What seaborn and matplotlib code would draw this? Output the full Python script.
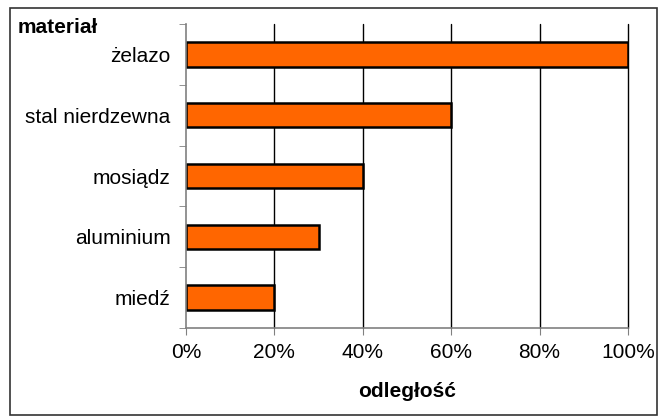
import numpy as np
import pandas as pd
import matplotlib
matplotlib.use('Agg')
import matplotlib.pyplot as plt
import seaborn as sns
from matplotlib.patches import Rectangle
from matplotlib.ticker import FixedLocator, PercentFormatter

materialy = ['żelazo', 'stal nierdzewna', 'mosiądz', 'aluminium', 'miedź']
odleglosc = [100, 60, 40, 30, 20]

df = pd.DataFrame({'material': materialy, 'odleglosc': odleglosc})

sns.set_style('white')
plt.rcParams['font.family'] = ['Liberation Sans', 'DejaVu Sans']
plt.rcParams['text.color'] = 'black'
plt.rcParams['axes.labelcolor'] = 'black'
plt.rcParams['xtick.labelcolor'] = 'black'
plt.rcParams['ytick.labelcolor'] = 'black'

fig = plt.figure(figsize=(6.58, 4.16), dpi=100)
ax = fig.add_axes([186 / 658, 1 - 328 / 416, 442 / 658, 304 / 416])

sns.barplot(data=df, x='odleglosc', y='material', orient='h', color='#FF6600',
            saturation=1, edgecolor='black', linewidth=1.8, width=0.4, ax=ax)

ax.set_xlim(0, 100)
ax.set_ylim(len(materialy) - 0.5, -0.5)
ax.set_xticks([0, 20, 40, 60, 80, 100])
ax.xaxis.set_major_formatter(PercentFormatter(decimals=0))
ax.tick_params(axis='x', labelsize=15, length=5, color='#808080', pad=6, direction='out', bottom=True)
ax.tick_params(axis='y', labelsize=15, length=0, pad=11)
ax.yaxis.set_minor_locator(FixedLocator(np.arange(-0.5, len(materialy), 1)))
ax.tick_params(axis='y', which='minor', length=5, color='#808080', left=True)

for v in [20, 40, 60, 80, 100]:
    ax.axvline(v, color='black', linewidth=1, zorder=0, clip_on=False)

for s in ['top', 'right']:
    ax.spines[s].set_visible(False)
for s in ['left', 'bottom']:
    ax.spines[s].set_color('#808080')
    ax.spines[s].set_linewidth(1.2)

ax.set_ylabel('')
ax.set_xlabel('odległość', fontsize=15, fontweight='bold', labelpad=14)
fig.text(18 / 658, 1 - 33 / 416, 'materiał', fontsize=15, fontweight='bold', ha='left', va='baseline')

fig.patches.append(Rectangle((10 / 658, 0.002), 0.998 - 10 / 658, 1 - 8 / 416 - 0.002,
                             transform=fig.transFigure, fill=False, edgecolor='#333333',
                             linewidth=1.2, zorder=10))

fig.savefig('out.png', dpi=100)
